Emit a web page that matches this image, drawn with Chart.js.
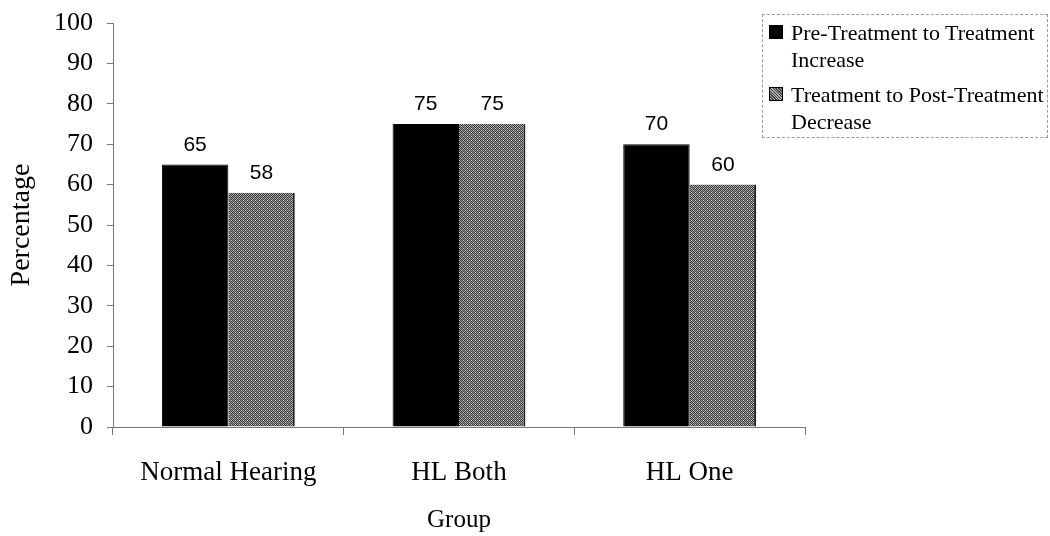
<!DOCTYPE html>
<html><head><meta charset="utf-8">
<script src="https://cdn.jsdelivr.net/npm/chart.js@4.4.1/dist/chart.umd.min.js"></script>
<style>
html,body{margin:0;padding:0;background:#fff;}
#wrap{position:relative;width:1050px;height:536px;}
#legend{position:absolute;left:762px;top:14px;width:286px;height:124px;border:1px dashed #999;box-sizing:border-box;font-family:"Liberation Serif","Times New Roman",serif;font-size:22px;line-height:27px;color:#000;padding:4px 0 0 6px;white-space:nowrap;}
#legend .item{display:flex;align-items:flex-start;margin-bottom:8px;}
#legend .sw{width:14px;height:14px;margin:6px 8px 0 0;flex:none;border:1px solid #000;box-sizing:border-box;}
</style>
</head><body>
<div id="wrap"><canvas id="c" width="1050" height="536"></canvas>
<div id="legend"></div></div>
<script>
const categories = ["Normal Hearing", "HL Both", "HL One"];
const seriesNames = ["Pre-Treatment to Treatment|Increase", "Treatment to Post-Treatment|Decrease"];
const increaseValues = [65, 75, 70];
const decreaseValues = [58, 75, 60];
const yTicks = [0,10,20,30,40,50,60,70,80,90,100];

function makePattern(){
  const p = document.createElement('canvas'); p.width = 4; p.height = 4;
  const g = p.getContext('2d');
  g.fillStyle = '#9a9a9a'; g.fillRect(0,0,4,4);
  g.fillStyle = '#3a3a3a';
  for (let i=0;i<4;i++){ g.fillRect(i,(i+0)%4,1,1); g.fillRect(i,(i+2)%4,1,1); }
  g.fillStyle = '#d0d0d0';
  g.fillRect(1,2,1,1); g.fillRect(3,0,1,1);
  return g.createPattern(p,'repeat');
}
const ctx = document.getElementById('c').getContext('2d');
const grayPat = makePattern();

const serif = '"Liberation Serif","Times New Roman",serif';

const labelPlugin = {
  id:'vals',
  afterDatasetsDraw(chart){
    const c = chart.ctx;
    c.save();
    c.font = '21px "Liberation Sans", Arial, sans-serif';
    c.fillStyle = '#000'; c.textAlign = 'center'; c.textBaseline = 'bottom';
    chart.data.datasets.forEach((ds,di)=>{
      chart.getDatasetMeta(di).data.forEach((bar,i)=>{
        c.fillText(String(ds.data[i]), bar.x, bar.y - 9);
      });
    });
    c.restore();
  }
};

new Chart(ctx, {
  type:'bar',
  data:{
    labels: categories,
    datasets:[
      {label: seriesNames[0].replace('|',' '), data: increaseValues, backgroundColor:'#000', borderColor:'#000', borderWidth:1},
      {label: seriesNames[1].replace('|',' '), data: decreaseValues, backgroundColor: grayPat, borderColor:'#222', borderWidth:{right:2,top:0,left:0,bottom:0}}
    ]
  },
  options:{
    responsive:false, animation:false,
    layout:{padding:{top:23,right:245,left:0,bottom:0}},
    categoryPercentage:0.576, barPercentage:1.0,
    plugins:{legend:{display:false}, tooltip:{enabled:false}},
    scales:{
      x:{
        grid:{display:true, drawOnChartArea:false, offset:true, tickLength:8, color:'#777'},
        border:{color:'#777'},
        ticks:{color:'#000', font:{family:serif, size:27}, padding:22},
        title:{display:true, text:'Group', color:'#000', font:{family:serif, size:25}, padding:{top:13, bottom:1}},
        afterFit(s){ s.height = 109; s.paddingLeft = 0; s.paddingRight = 0; }
      },
      y:{
        min:0, max:100,
        afterBuildTicks(s){ s.ticks = yTicks.map(v=>({value:v})); },
        grid:{display:true, drawOnChartArea:false, tickLength:6, color:'#777'},
        border:{color:'#777'},
        ticks:{color:'#000', font:{family:serif, size:26}, padding:14},
        title:{display:true, text:'Percentage', color:'#000', font:{family:serif, size:28}, padding:{top:5, bottom:4}},
        afterFit(s){ s.width = 113; s.paddingTop = 0; s.paddingBottom = 0; }
      }
    }
  },
  plugins:[labelPlugin]
});

const lg = document.getElementById('legend');
seriesNames.forEach((n,i)=>{
  const it = document.createElement('div'); it.className='item';
  const sw = document.createElement('div'); sw.className='sw';
  sw.style.background = i===0 ? '#000' : 'repeating-linear-gradient(45deg,#444 0 1px,#aaa 1px 2px)';
  const t = document.createElement('div');
  n.split('|').forEach((line,k)=>{ const d=document.createElement('div'); d.textContent=line; t.appendChild(d); });
  it.appendChild(sw); it.appendChild(t); lg.appendChild(it);
});
</script>
</body></html>
